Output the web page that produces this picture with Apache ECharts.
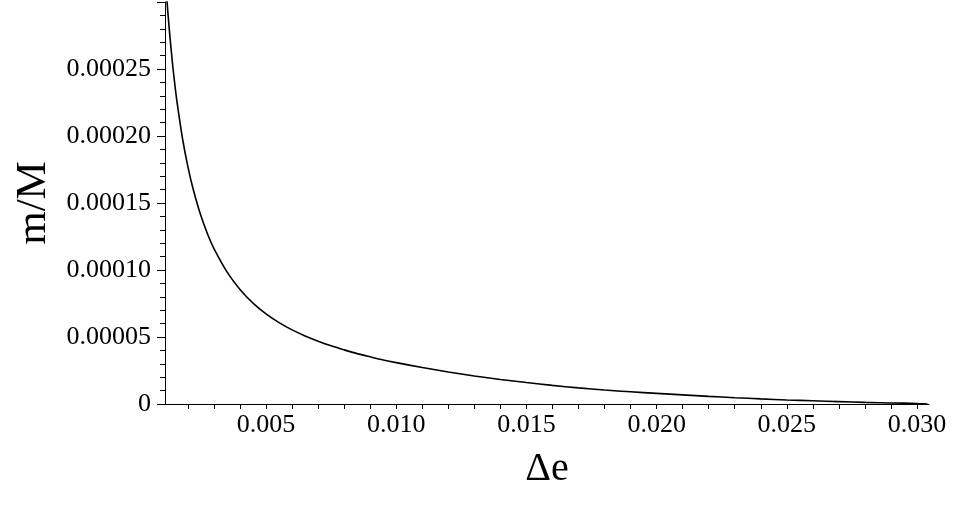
<!DOCTYPE html>
<html>
<head>
<meta charset="utf-8">
<script src="https://cdn.jsdelivr.net/npm/echarts@6/dist/echarts.min.js"></script>
<style>
html,body{margin:0;padding:0;background:#fff;}
#chart{width:980px;height:506px;}
</style>
</head>
<body>
<div id="chart"></div>
<script>
// Δe values (x) and m/M values (y)
var deltaE = [0.00116, 0.00123, 0.00130, 0.00140, 0.00150, 0.00160, 0.00180, 0.00200, 0.00220, 0.00250,
  0.00280, 0.00300, 0.00350, 0.00400, 0.00450, 0.00500, 0.00550, 0.00600, 0.00650, 0.00700,
  0.00750, 0.00800, 0.00850, 0.00900, 0.00950, 0.01000, 0.01100, 0.01200, 0.01300, 0.01400,
  0.01500, 0.01600, 0.01700, 0.01800, 0.01900, 0.02000, 0.02100, 0.02200, 0.02300, 0.02400,
  0.02500, 0.02600, 0.02700, 0.02800, 0.02900, 0.03000, 0.03040];
var massRatio = [0.0003103, 0.0002923, 0.0002762, 0.0002557, 0.0002380, 0.0002228, 0.0001972, 0.0001770, 0.0001605, 0.0001404,
  0.0001246, 0.0001160, 0.0000986, 0.0000855, 0.0000753, 0.0000672, 0.0000607, 0.0000553, 0.0000508, 0.0000469,
  0.0000434, 0.0000404, 0.0000376, 0.0000352, 0.0000329, 0.0000309, 0.0000272, 0.0000239, 0.0000209, 0.0000183,
  0.0000160, 0.0000139, 0.0000120, 0.0000104, 0.0000091, 0.0000079, 0.0000068, 0.0000057, 0.0000047, 0.0000038,
  0.0000030, 0.0000024, 0.0000018, 0.0000012, 0.0000008, 0.0000004, 0.0];

// tick labels
var xTickLabels = [0.005, 0.010, 0.015, 0.020, 0.025, 0.030];
var xMinorTicks = [0.002, 0.003, 0.004, 0.005, 0.006, 0.007, 0.008, 0.009, 0.010, 0.011, 0.012, 0.013, 0.014, 0.015,
  0.016, 0.017, 0.018, 0.019, 0.020, 0.021, 0.022, 0.023, 0.024, 0.025, 0.026, 0.027, 0.028, 0.029, 0.030];
var yTickLabels = ['0', '0.00005', '0.00010', '0.00015', '0.00020', '0.00025', ''];

var FONT = "'Liberation Serif','Times New Roman',serif";
var points = deltaE.map(function (x, i) { return [x, massRatio[i]]; });

var chart = echarts.init(document.getElementById('chart'), null, {renderer: 'canvas'});
chart.setOption({
  backgroundColor: '#ffffff',
  animation: false,
  grid: {left: 165, right: 51, top: 2, bottom: 102, containLabel: false},
  xAxis: {
    type: 'value',
    min: 0.00112,
    max: 0.03046,
    name: 'Δe',
    nameLocation: 'middle',
    nameGap: 45,
    nameTextStyle: {fontFamily: FONT, fontSize: 40, color: '#000'},
    axisLine: {show: true, lineStyle: {color: '#000', width: 1}},
    axisTick: {show: true, customValues: xMinorTicks, length: 5, lineStyle: {color: '#000'}},
    axisLabel: {
      customValues: xTickLabels,
      margin: 8,
      fontFamily: FONT, fontSize: 26, color: '#000',
      formatter: function (v) { return v.toFixed(3); }
    },
    splitLine: {show: false}
  },
  yAxis: {
    type: 'value',
    min: 0,
    max: 0.0003,
    interval: 0.00005,
    name: 'm/M',
    nameLocation: 'middle',
    nameGap: 100,
    nameRotate: 90,
    nameTextStyle: {fontFamily: FONT, fontSize: 43, color: '#000'},
    axisLine: {show: true, lineStyle: {color: '#000', width: 1}},
    axisTick: {show: true, length: 8, lineStyle: {color: '#000'}},
    minorTick: {show: true, splitNumber: 5, length: 5, lineStyle: {color: '#000'}},
    axisLabel: {
      margin: 14,
      fontFamily: FONT, fontSize: 26, color: '#000',
      formatter: function (v) {
        var idx = Math.round(v / 0.00005);
        return yTickLabels[idx] !== undefined ? yTickLabels[idx] : '';
      }
    },
    splitLine: {show: false},
    minorSplitLine: {show: false}
  },
  series: [{
    type: 'line',
    data: points,
    smooth: 0.3,
    showSymbol: false,
    clip: true,
    lineStyle: {color: '#000', width: 1.6}
  }]
});
</script>
</body>
</html>
